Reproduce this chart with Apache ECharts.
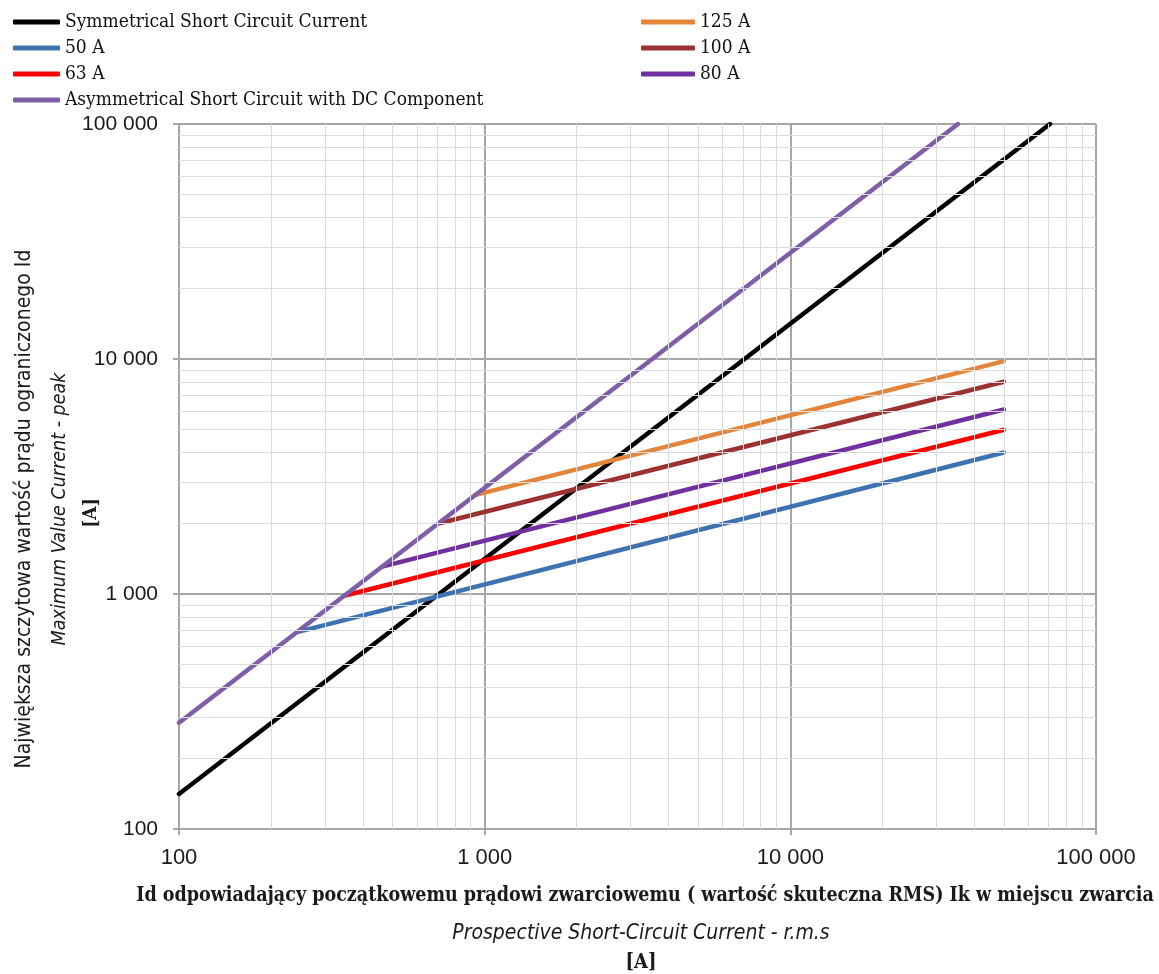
<!DOCTYPE html>
<html><head><meta charset="utf-8">
<script src="https://cdn.jsdelivr.net/npm/echarts@6/dist/echarts.min.js"></script>
<style>html,body{margin:0;padding:0;background:#fff}#c{width:1159px;height:974px}</style>
</head><body><div id="c"></div>
<script>
// Data (two end points of each straight log-log line)
const symX = [100, 70711];   const symY = [141, 100000];
const asymX = [100, 35350];  const asymY = [283, 100000];
const x50 = [245, 50000];    const y50 = [690, 4000];
const x63 = [349, 50000];    const y63 = [985, 5000];
const x80 = [465, 50000];    const y80 = [1310, 6100];
const x100 = [710, 50000];   const y100 = [2000, 8000];
const x125 = [935, 50000];   const y125 = [2640, 9800];
const minorX = [200,300,400,500,600,700,800,900,2000,3000,4000,5000,6000,7000,8000,9000,20000,30000,40000,50000,60000,70000,80000,90000];
const minorY = [200,300,400,500,600,700,800,900,2000,3000,4000,5000,6000,7000,8000,9000,20000,30000,40000,50000,60000,70000,80000,90000];
const names = ['Symmetrical Short Circuit Current','50 A','63 A','Asymmetrical Short Circuit with DC Component','125 A','100 A','80 A'];

const pair = (xs, ys) => xs.map((x, i) => [x, ys[i]]);
const fmt = v => String(v).replace(/\B(?=(\d{3})+(?!\d))/g, ' ');
const legendFont = {fontFamily:'DejaVu Serif Condensed', fontSize:19, color:'#111111', lineHeight:26};

function line(name, data, color, z) {
  return {name, type:'line', data, symbol:'none', z: z||3,
    lineStyle:{color, width:4.5, cap:'round'}, itemStyle:{color}};
}

const chart = echarts.init(document.getElementById('c'));
chart.setOption({
  animation:false,
  grid:{left:179, right:63, top:124, bottom:145},
  legend:[
    {orient:'vertical', left:8, top:4, icon:'roundRect', itemWidth:47, itemHeight:5, itemGap:0,
     data:[names[0],names[1],names[2],names[3]], textStyle:legendFont},
    {orient:'vertical', left:636, top:4, icon:'roundRect', itemWidth:54, itemHeight:5, itemGap:0,
     data:[names[4],names[5],names[6]], textStyle:legendFont}
  ],
  xAxis:{type:'log', logBase:10, min:100, max:100000,
    axisLine:{lineStyle:{color:'#a6a6a6', width:2}},
    axisTick:{show:true, length:6, lineStyle:{color:'#a6a6a6', width:2}},
    axisLabel:{formatter:fmt, fontFamily:'Liberation Sans', fontSize:22, color:'#1a1a1a', margin:18},
    splitLine:{show:true, lineStyle:{color:'#a6a6a6', width:2}}},
  yAxis:{type:'log', logBase:10, min:100, max:100000,
    axisLine:{show:true, lineStyle:{color:'#a6a6a6', width:2}},
    axisTick:{show:true, length:6, lineStyle:{color:'#a6a6a6', width:2}},
    axisLabel:{formatter:fmt, fontFamily:'Liberation Sans', fontSize:21, color:'#1a1a1a', margin:21},
    splitLine:{show:true, lineStyle:{color:'#a6a6a6', width:2}}},
  graphic:[
    {type:'text', x:645, y:896, style:{text:'Id odpowiadający początkowemu prądowi zwarciowemu ( wartość skuteczna RMS) Ik w miejscu zwarcia', font:'bold 19.5px "DejaVu Serif Condensed"', fill:'#1a1a1a', align:'center', verticalAlign:'middle'}},
    {type:'text', x:641, y:934, style:{text:'Prospective Short-Circuit Current - r.m.s', font:'italic 21px "DejaVu Sans Condensed"', fill:'#1a1a1a', align:'center', verticalAlign:'middle'}},
    {type:'text', x:641, y:963, style:{text:'[A]', font:'bold 20px "DejaVu Serif Condensed"', fill:'#1a1a1a', align:'center', verticalAlign:'middle'}},
    {type:'text', x:25, y:509, rotation:Math.PI/2, style:{text:'Największa szczytowa wartość prądu ograniczonego Id', font:'21px "DejaVu Sans Condensed"', fill:'#1a1a1a', align:'center', verticalAlign:'middle'}},
    {type:'text', x:60, y:509, rotation:Math.PI/2, style:{text:'Maximum Value Current - peak', font:'italic 19.5px "DejaVu Sans Condensed"', fill:'#1a1a1a', align:'center', verticalAlign:'middle'}},
    {type:'text', x:91, y:513, rotation:Math.PI/2, style:{text:'[A]', font:'bold 19px "DejaVu Serif Condensed"', fill:'#1a1a1a', align:'center', verticalAlign:'middle'}}
  ],
  series:[
    {name:'minor', type:'line', data:[], z:1, silent:true,
     markLine:{silent:true, symbol:'none', animation:false, label:{show:false},
       lineStyle:{color:'#dcdcdc', width:1, type:'solid'},
       data:[...minorX.map(v=>({xAxis:v})), ...minorY.map(v=>({yAxis:v}))]}},
    line(names[0], pair(symX, symY), '#000000'),
    line(names[1], pair(x50, y50), '#3f72b0'),
    line(names[2], pair(x63, y63), '#ff0000'),
    line(names[6], pair(x80, y80), '#7030a0'),
    line(names[5], pair(x100, y100), '#9b3230'),
    line(names[4], pair(x125, y125), '#e3853a'),
    line(names[3], pair(asymX, asymY), '#7e5ea6', 4)
  ]
});
</script></body></html>
